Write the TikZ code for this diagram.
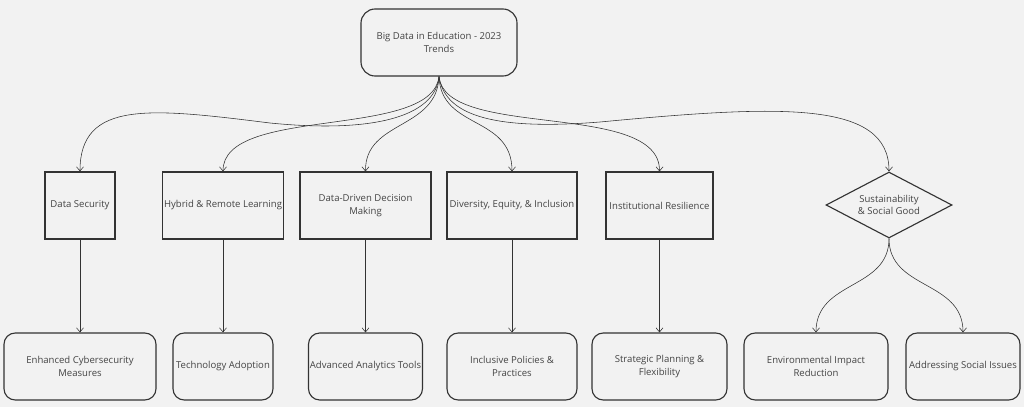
\documentclass[tikz,border=0pt]{standalone}
\usepackage{fontspec}
\setmainfont{Open Sans}
\usetikzlibrary{arrows.meta}
\usetikzlibrary{shapes.geometric}
\definecolor{bgcol}{HTML}{F2F2F2}
\definecolor{linecol}{HTML}{333333}
\definecolor{textcol}{HTML}{444444}
\begin{document}
\begin{tikzpicture}[x=0.025cm,y=-0.025cm,
  every node/.style={font=\fontsize{6.8}{9}\selectfont,text=textcol,align=center},
  topic/.style={draw=linecol,thick,minimum height=67*0.025cm,inner sep=1pt},
  leaf/.style={draw=linecol,thick,rounded corners=8pt,minimum height=67*0.025cm,inner sep=1pt},
  link/.style={draw=linecol,-{Straight Barb[length=3pt,width=5pt]}}]

\fill[bgcol] (0,0) rectangle (1024,407);

% root
\node[leaf,rounded corners=10pt,minimum width=156*0.025cm] (root) at (439,42.5) {Big Data in Education - 2023\\Trends};

% topics
\node[topic,minimum width=70*0.025cm] (sec) at (80,205.5) {Data Security};
\node[topic,minimum width=120*0.025cm] (hyb) at (223,205.5) {Hybrid \& Remote Learning};
\node[topic,minimum width=131*0.025cm] (ddd) at (365.5,205.5) {Data-Driven Decision\\Making};
\node[topic,minimum width=130*0.025cm] (dei) at (512,205.5) {Diversity, Equity, \& Inclusion};
\node[topic,minimum width=107*0.025cm] (res) at (659.5,205.5) {Institutional Resilience};
\node[draw=linecol,thick,diamond,aspect=1.9,inner sep=0pt,minimum width=126*0.025cm,minimum height=66*0.025cm] (sus) at (889,205) {Sustainability\\\& Social Good};

% leaves
\node[leaf,minimum width=152*0.025cm] (cyb) at (80,366.5) {Enhanced Cybersecurity\\Measures};
\node[leaf,minimum width=100*0.025cm] (tec) at (223,366.5) {Technology Adoption};
\node[leaf,minimum width=113*0.025cm] (ana) at (365.5,366.5) {Advanced Analytics Tools};
\node[leaf,minimum width=130*0.025cm] (pol) at (512,366.5) {Inclusive Policies \&\\Practices};
\node[leaf,minimum width=135*0.025cm] (pla) at (659.5,366.5) {Strategic Planning \&\\Flexibility};
\node[leaf,minimum width=144*0.025cm] (env) at (816,366.5) {Environmental Impact\\Reduction};
\node[leaf,minimum width=114*0.025cm] (soc) at (963,366.5) {Addressing Social Issues};

% root to topics
\draw[link] (root.south) .. controls (435,118) and (370,133) .. (270,123)
  .. controls (150,108) and (80,100) .. (sec.north);
\draw[link] (root.south) .. controls (432,140) and (223,105) .. (hyb.north);
\draw[link] (root.south) .. controls (437,130) and (365,120) .. (ddd.north);
\draw[link] (root.south) .. controls (441,130) and (512,115) .. (dei.north);
\draw[link] (root.south) .. controls (445,140) and (660,100) .. (res.north);
\draw[link] (root.south) .. controls (445,118) and (500,130) .. (600,122)
  .. controls (780,105) and (889,100) .. (sus.north);

% topics to leaves
\foreach \t/\l in {sec/cyb,hyb/tec,ddd/ana,dei/pol,res/pla}
  \draw[link] (\t.south) -- (\l.north);
\draw[link] (sus.south) .. controls (889,290) and (816,280) .. (env.north);
\draw[link] (sus.south) .. controls (889,290) and (963,280) .. (soc.north);
\end{tikzpicture}
\end{document}
